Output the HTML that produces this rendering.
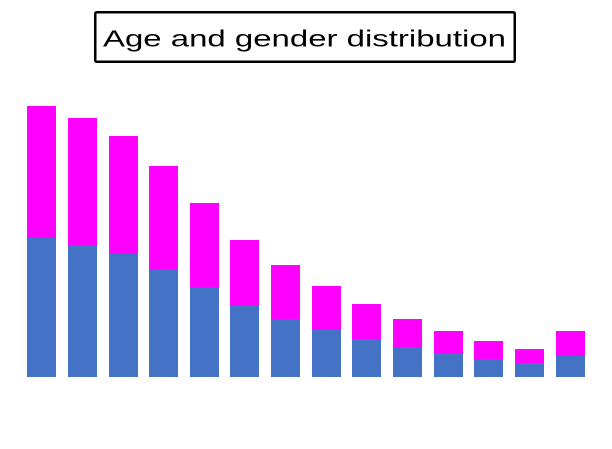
<!DOCTYPE html>
<html>
<head>
<meta charset="utf-8">
<style>
html,body{margin:0;padding:0;background:#fff;}
svg{display:block;}
</style>
</head>
<body>
<svg width="612" height="449" viewBox="0 0 612 449" xmlns="http://www.w3.org/2000/svg">
<rect width="612" height="449" fill="#ffffff"/>
<rect x="95.25" y="12.25" width="419.5" height="49.5" rx="1.5" fill="#fff" stroke="#000" stroke-width="2.5"/>
<text x="103" y="46.7" font-family="Liberation Sans, sans-serif" font-size="23.5" fill="#000" textLength="403" lengthAdjust="spacingAndGlyphs">Age and gender distribution</text>
<g>
<rect x="27" y="106" width="29" height="132" fill="#FF00FF"/><rect x="27" y="237.7" width="29" height="139.3" fill="#4472C4"/>
<rect x="68" y="118" width="29" height="127.5" fill="#FF00FF"/><rect x="68" y="245" width="29" height="132" fill="#4472C4"/>
<rect x="109" y="136" width="29" height="118" fill="#FF00FF"/><rect x="109" y="253.7" width="29" height="123.3" fill="#4472C4"/>
<rect x="149" y="166" width="29" height="103.5" fill="#FF00FF"/><rect x="149" y="269" width="29" height="108" fill="#4472C4"/>
<rect x="190" y="203" width="29" height="84.5" fill="#FF00FF"/><rect x="190" y="287" width="29" height="90" fill="#4472C4"/>
<rect x="230" y="240" width="29" height="65.5" fill="#FF00FF"/><rect x="230" y="305" width="29" height="72" fill="#4472C4"/>
<rect x="271" y="265" width="29" height="54.5" fill="#FF00FF"/><rect x="271" y="319" width="29" height="58" fill="#4472C4"/>
<rect x="312" y="286" width="29" height="43.5" fill="#FF00FF"/><rect x="312" y="329" width="29" height="48" fill="#4472C4"/>
<rect x="352" y="304" width="29" height="35.5" fill="#FF00FF"/><rect x="352" y="339" width="29" height="38" fill="#4472C4"/>
<rect x="393" y="319" width="29" height="28.5" fill="#FF00FF"/><rect x="393" y="347" width="29" height="30" fill="#4472C4"/>
<rect x="434" y="331" width="29" height="22.5" fill="#FF00FF"/><rect x="434" y="353" width="29" height="24" fill="#4472C4"/>
<rect x="474" y="341" width="29" height="18.5" fill="#FF00FF"/><rect x="474" y="359" width="29" height="18" fill="#4472C4"/>
<rect x="515" y="349" width="29" height="14.5" fill="#FF00FF"/><rect x="515" y="363" width="29" height="14" fill="#4472C4"/>
<rect x="556" y="331" width="29" height="25.5" fill="#FF00FF"/><rect x="556" y="356" width="29" height="21" fill="#4472C4"/>
</g>
</svg>
</body>
</html>
